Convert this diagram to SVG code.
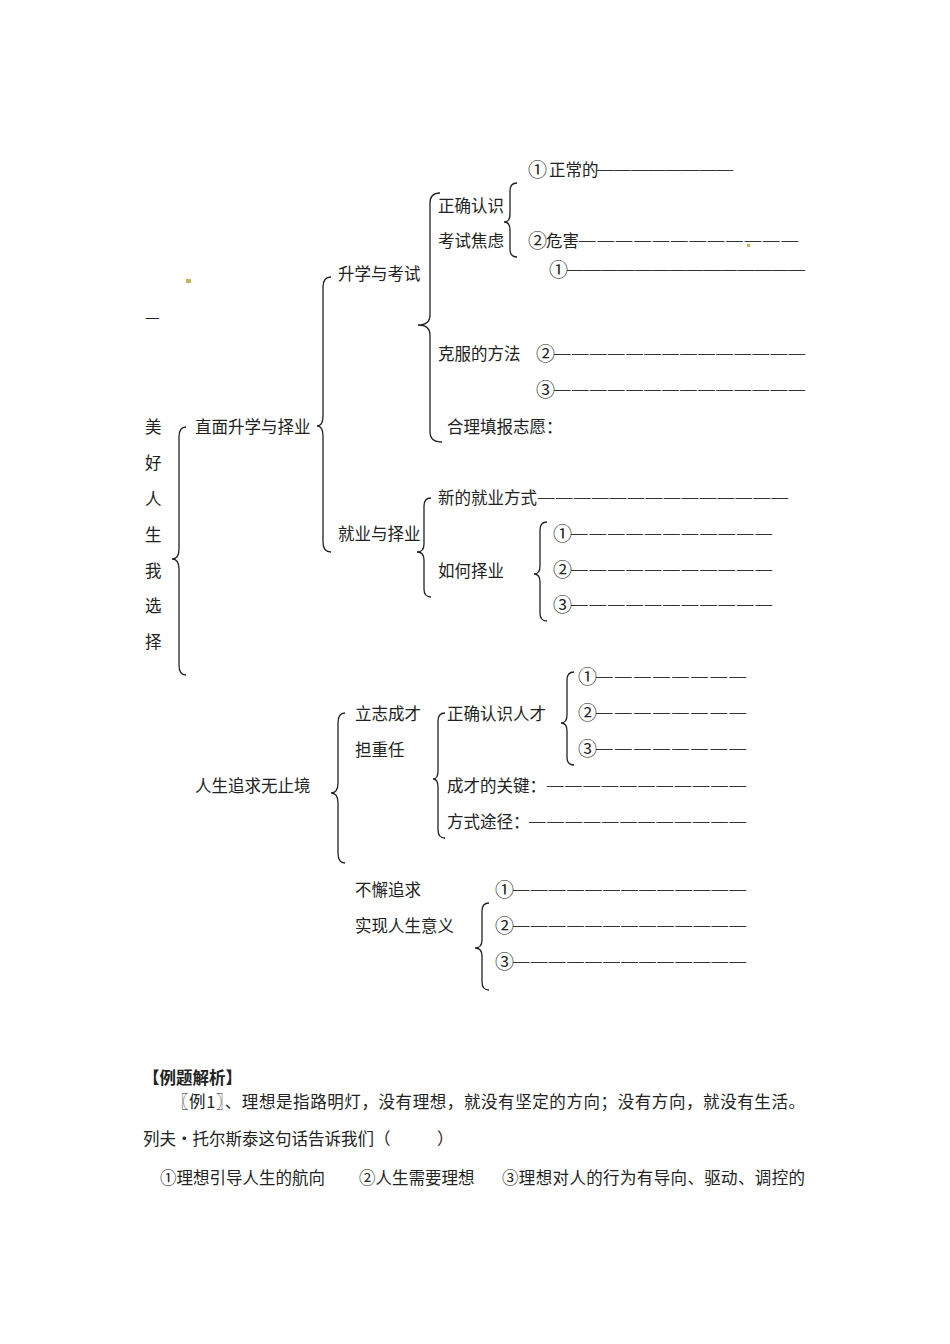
<svg xmlns="http://www.w3.org/2000/svg" width="950" height="1344" viewBox="0 0 950 1344">
<style>
text{font-family:"Noto Sans CJK SC","Noto Sans CJK JP",sans-serif;font-size:16.5px;fill:#222}
.d{font-family:"Liberation Serif","Noto Sans CJK SC",serif;fill:#333}
.c{font-size:19px}
.b{font-weight:bold}
.br{fill:none;stroke:#222;stroke-width:1.3}
</style>
<rect width="950" height="1344" fill="#fff"/>
<g id="marks">
<rect x="186" y="279" width="5" height="4" fill="#c9b55a"/>
<rect x="747" y="244" width="3" height="3" fill="#c9b55a"/>
<text x="145" y="323">—</text>
</g>
<g id="connectors">
<path class="br" d="M517 183 Q510 183 510 191 L510 214 Q510 222 504 222 Q510 222 510 230 L510 249 Q510 257 517 257"/>
<path class="br" d="M440 193 Q430 193 430 203 L430 315 Q430 325 418 325 Q430 325 430 335 L430 432 Q430 442 442 442"/>
<path class="br" d="M186 427 Q179 427 179 437 L179 549 Q179 559 172 559 Q179 559 179 569 L179 665 Q179 675 186 675"/>
<path class="br" d="M331 277 Q323 277 323 287 L323 416 Q323 426 317 426 Q323 426 323 436 L323 542 Q323 552 331 552"/>
<path class="br" d="M431 498 Q424 498 424 506 L424 544 Q424 552 417 552 Q424 552 424 560 L424 589 Q424 597 431 597"/>
<path class="br" d="M547 522 Q540 522 540 530 L540 566 Q540 574 534 574 Q540 574 540 582 L540 613 Q540 621 547 621"/>
<path class="br" d="M574 672 Q567 672 567 680 L567 715 Q567 723 561 723 Q567 723 567 731 L567 757 Q567 765 574 765"/>
<path class="br" d="M445 713 Q438 713 438 721 L438 771 Q438 779 433 779 Q438 779 438 787 L438 830 Q438 838 445 838"/>
<path class="br" d="M345 713 Q338 713 338 723 L338 783 Q338 793 331 793 Q338 793 338 803 L338 853 Q338 863 345 863"/>
<path class="br" d="M489 903 Q482 903 482 911 L482 940 Q482 948 475 948 Q482 948 482 956 L482 982 Q482 990 489 990"/>
</g>
<g id="root"><text x="145" y="433">美</text><text x="145" y="469">好</text><text x="145" y="505">人</text><text x="145" y="541">生</text><text x="145" y="577">我</text><text x="145" y="612">选</text><text x="145" y="648">择</text></g>
<g id="n-zhimian"><text x="195" y="433">直面升学与择业</text></g>
<g id="n-shengxue"><text x="338" y="280">升学与考试</text></g>
<g id="n-zhengque"><text x="438" y="212">正确认识</text><text x="438" y="247">考试焦虑</text></g>
<g id="n-zc"><text x="528" y="177" class="c">①</text><text x="549" y="176">正常的</text><text class="d" x="597" y="174" textLength="136" lengthAdjust="spacing">————————</text></g>
<g id="n-wh"><text x="528" y="248" class="c">②</text><text x="546" y="247">危害</text><text class="d" x="579" y="245" textLength="219" lengthAdjust="spacing">————————————</text></g>
<g id="n-kefu"><text x="438" y="360">克服的方法</text></g>
<g id="n-kf1"><text class="c" x="549" y="277">①</text><text class="d" x="567" y="274" textLength="238" lengthAdjust="spacing">——————————————</text></g>
<g id="n-kf2"><text class="c" x="536" y="361">②</text><text class="d" x="554" y="358" textLength="251" lengthAdjust="spacing">——————————————</text></g>
<g id="n-kf3"><text class="c" x="536" y="397">③</text><text class="d" x="554" y="394" textLength="251" lengthAdjust="spacing">——————————————</text></g>
<g id="n-heli"><text x="447" y="433">合理填报志愿：</text></g>
<g id="n-jiuye"><text x="338" y="540">就业与择业</text></g>
<g id="n-xinde"><text x="438" y="504">新的就业方式</text><text class="d" x="538" y="502" textLength="250" lengthAdjust="spacing">——————————————</text></g>
<g id="n-ruhe"><text x="438" y="577">如何择业</text></g>
<g id="n-rh1"><text class="c" x="553" y="541">①</text><text class="d" x="571" y="538" textLength="201" lengthAdjust="spacing">———————————</text></g>
<g id="n-rh2"><text class="c" x="553" y="577">②</text><text class="d" x="571" y="574" textLength="201" lengthAdjust="spacing">———————————</text></g>
<g id="n-rh3"><text class="c" x="553" y="612">③</text><text class="d" x="571" y="609" textLength="201" lengthAdjust="spacing">———————————</text></g>
<g id="n-rensheng"><text x="195" y="792">人生追求无止境</text></g>
<g id="n-lizhi"><text x="355" y="720">立志成才</text><text x="355" y="756">担重任</text></g>
<g id="n-zqrc"><text x="447" y="720">正确认识人才</text></g>
<g id="n-rc1"><text class="c" x="578" y="684">①</text><text class="d" x="596" y="681" textLength="150" lengthAdjust="spacing">————————</text></g>
<g id="n-rc2"><text class="c" x="578" y="720">②</text><text class="d" x="596" y="717" textLength="150" lengthAdjust="spacing">————————</text></g>
<g id="n-rc3"><text class="c" x="578" y="756">③</text><text class="d" x="596" y="753" textLength="150" lengthAdjust="spacing">————————</text></g>
<g id="n-guanjian"><text x="447" y="792">成才的关键：</text><text class="d" x="547" y="790" textLength="199" lengthAdjust="spacing">———————————</text></g>
<g id="n-fangshi"><text x="447" y="828">方式途径：</text><text class="d" x="529" y="826" textLength="217" lengthAdjust="spacing">————————————</text></g>
<g id="n-buxie"><text x="355" y="896">不懈追求</text><text x="355" y="932">实现人生意义</text></g>
<g id="n-bx1"><text class="c" x="495" y="897">①</text><text class="d" x="513" y="894" textLength="233" lengthAdjust="spacing">—————————————</text></g>
<g id="n-bx2"><text class="c" x="495" y="933">②</text><text class="d" x="513" y="930" textLength="233" lengthAdjust="spacing">—————————————</text></g>
<g id="n-bx3"><text class="c" x="495" y="969">③</text><text class="d" x="513" y="966" textLength="233" lengthAdjust="spacing">—————————————</text></g>
<g id="example">
<text class="b" x="143" y="1084">【例题解析】</text>
<text x="172" y="1108" textLength="633" lengthAdjust="spacing">〖例1〗、理想是指路明灯，没有理想，就没有坚定的方向；没有方向，就没有生活。</text>
<text x="143" y="1145">列夫•托尔斯泰这句话告诉我们（</text>
<text x="437" y="1145">）</text>
<text x="160" y="1184">①理想引导人生的航向</text>
<text x="359" y="1184">②人生需要理想</text>
<text x="502" y="1184" textLength="303" lengthAdjust="spacing">③理想对人的行为有导向、驱动、调控的</text>
</g>
</svg>
